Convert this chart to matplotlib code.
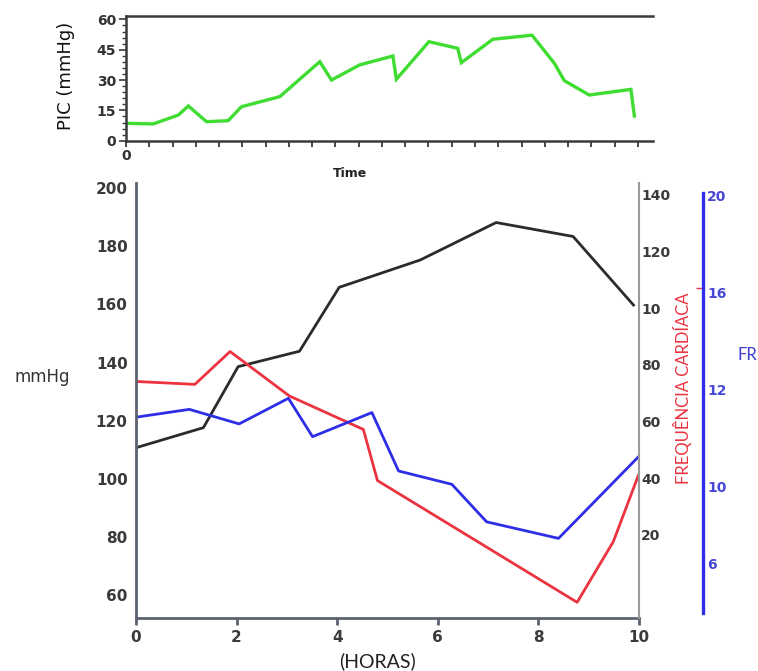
import matplotlib
matplotlib.use("Agg")
import matplotlib.pyplot as plt
from matplotlib.ticker import FixedLocator, MultipleLocator

# ---- intracranial pressure trace (top panel) ----
pic_time = [0.03, 1.17, 2.25, 2.68, 3.46, 4.39, 4.96, 6.61, 8.33, 8.83, 10.04,
            11.47, 11.62, 13.02, 14.26, 14.41, 15.77, 17.45, 18.41, 18.84,
            19.91, 21.70, 21.85]
pic_values = [8.6, 8.3, 12.7, 17.2, 9.4, 9.9, 16.8, 21.8, 39.1, 30.0, 37.5,
              41.9, 30.4, 49.0, 45.7, 38.6, 50.2, 52.2, 38.3, 29.7,
              22.6, 25.4, 12.2]
pic_ticks = [0, 15, 30, 45, 60]

# ---- vital signs over hours (bottom panel, drawn on the mmHg scale) ----
pa_hours = [0, 1.34, 2.03, 3.25, 4.04, 5.65, 7.16, 8.69, 9.89]
pa_values = [110.7, 117.6, 138.6, 143.9, 165.9, 175.3, 188.2, 183.4, 159.8]

fc_hours = [0, 1.17, 1.87, 3.05, 4.52, 4.80, 8.77, 9.49, 9.99]
fc_values = [133.5, 132.5, 143.8, 128.5, 117.0, 99.4, 57.5, 78.4, 101.3]

fr_hours = [0, 1.06, 2.05, 3.03, 3.51, 4.69, 5.22, 6.28, 6.97, 8.40, 9.99]
fr_values = [121.2, 123.9, 118.9, 127.7, 114.5, 122.8, 102.7, 98.1, 85.2, 79.5, 107.6]

hour_ticks = [0, 2, 4, 6, 8, 10]
mmhg_ticks = [60, 80, 100, 120, 140, 160, 180, 200]
fc_ticks = [20, 40, 60, 80, 100, 120, 140]
fc_tick_labels = ["20", "40", "60", "80", "10", "120", "140"]
fr_tick_labels = ["6", "10", "12", "16", "20"]

W, H = 758, 671
fig = plt.figure(figsize=(W / 100, H / 100), dpi=100)


def box(x0, y0, x1, y1):
    """Pixel rectangle (origin top-left) -> figure-fraction rect."""
    return [x0 / W, 1 - y1 / H, (x1 - x0) / W, (y1 - y0) / H]


GREEN = "#3fdc32"
BLACK = "#2b2b2b"
RED = "#ec3340"
BLUE = "#2e2ee6"
TICK_TXT = "#3a3a3a"

# ================= top panel =================
ax_top = fig.add_axes(box(126, 16, 653, 140.7))
ax_top.plot(pic_time, pic_values, color=GREEN, lw=2.4, solid_joinstyle="miter")
ax_top.set_xlim(0, 22.65)
ax_top.set_ylim(0, 61.7)
ax_top.spines["right"].set_visible(False)
for s in ("top", "bottom", "left"):
    ax_top.spines[s].set_color("#3a3a3a")
    ax_top.spines[s].set_linewidth(1.8)
ax_top.set_yticks(pic_ticks)
ax_top.set_yticklabels([str(v) for v in pic_ticks], fontsize=10,
                       fontweight="bold", color="#333333")
ax_top.yaxis.set_minor_locator(MultipleLocator(3))
ax_top.tick_params(axis="y", which="major", direction="out", length=5,
                   width=1.2, pad=2, color="#3a3a3a")
ax_top.tick_params(axis="y", which="minor", direction="out", length=3,
                   width=1, color="#3a3a3a")
ax_top.set_xticks(range(0, 23))
ax_top.set_xticklabels(["0"] + [""] * 22, fontsize=10, fontweight="bold",
                       color="#333333")
ax_top.tick_params(axis="x", direction="out", length=4, width=1.3, pad=2,
                   color="#3a3a3a")
fig.text(350 / W, 1 - 173 / H, "Time", fontsize=9, fontweight="bold",
         color="#222222", ha="center", va="center")
fig.text(66 / W, 1 - 76 / H, "PIC (mmHg)", fontsize=13, rotation=90,
         color="#111111", ha="center", va="center")

# ================= bottom panel =================
ax = fig.add_axes(box(136, 183, 639, 618))
ax.plot(pa_hours, pa_values, color=BLACK, lw=2.0)
ax.plot(fc_hours, fc_values, color=RED, lw=2.0)
ax.plot(fr_hours, fr_values, color=BLUE, lw=2.0)
ax.set_xlim(0, 10)
ax.set_ylim(52.1, 201.8)
ax.spines["top"].set_visible(False)
ax.spines["right"].set_visible(False)
for s in ("left", "bottom"):
    ax.spines[s].set_color("#5c6370")
    ax.spines[s].set_linewidth(2)
ax.set_yticks(mmhg_ticks)
ax.set_yticklabels([str(v) for v in mmhg_ticks], fontsize=11,
                   fontweight="bold", color=TICK_TXT)
ax.tick_params(axis="y", length=0, pad=6)
ax.set_xticks(hour_ticks)
ax.set_xticklabels([str(v) for v in hour_ticks], fontsize=11,
                   fontweight="bold", color=TICK_TXT)
ax.tick_params(axis="x", direction="out", length=5, width=2, pad=3.5,
               color="#5c6370")

# heart-rate scale on the right edge of the plot
ax_fc = ax.twinx()
ax_fc.set_ylim(-9.3, 144.2)
for s in ("left", "top", "bottom"):
    ax_fc.spines[s].set_visible(False)
ax_fc.spines["right"].set_color("#9a9a9a")
ax_fc.spines["right"].set_linewidth(1.5)
ax_fc.set_yticks(fc_ticks)
ax_fc.set_yticklabels(fc_tick_labels, fontsize=10, fontweight="bold",
                      color=TICK_TXT)
ax_fc.tick_params(axis="y", length=0, pad=1.5)

# respiratory-rate scale further right
ax_fr = fig.add_axes(box(690, 193, 703, 613))
ax_fr.patch.set_visible(False)
for s in ("left", "top", "bottom"):
    ax_fr.spines[s].set_visible(False)
ax_fr.spines["right"].set_color(BLUE)
ax_fr.spines["right"].set_linewidth(2.4)
ax_fr.set_xticks([])
ax_fr.set_ylim(0, 1)
ax_fr.yaxis.tick_right()
ax_fr.set_yticks([0.119, 0.302, 0.531, 0.762, 0.995])
ax_fr.set_yticklabels(fr_tick_labels, fontsize=10, fontweight="bold",
                      color="#4848d8")
ax_fr.tick_params(axis="y", which="major", length=0, pad=3)
ax_fr.yaxis.set_minor_locator(FixedLocator([0.774]))
ax_fr.tick_params(axis="y", which="minor", direction="in", length=5,
                  width=1, color=RED, right=True, left=False)

fig.text(42 / W, 1 - 377 / H, "mmHg", fontsize=12, color="#333333",
         ha="center", va="center")
fig.text(378 / W, 1 - 661 / H, "(HORAS)", fontsize=14, family="Lato",
         color="#222222", ha="center", va="center")
fig.text(683 / W, 1 - 388 / H, "FREQUÊNCIA CARDÍACA", fontsize=12,
         family="Lato", rotation=90, color=RED, ha="center", va="center")
fig.text(747 / W, 1 - 355 / H, "FR", fontsize=12, family="Lato",
         color="#3d3dd0", ha="center", va="center")

fig.savefig("out.png", dpi=100)
